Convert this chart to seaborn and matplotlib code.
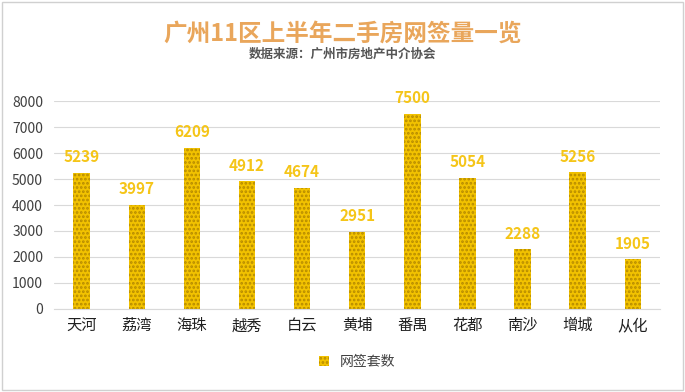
import matplotlib
matplotlib.use("Agg")
import matplotlib.pyplot as plt
import seaborn as sns
import pandas as pd

districts = ["天河", "荔湾", "海珠", "越秀", "白云", "黄埔", "番禺", "花都", "南沙", "增城", "从化"]
deals = [5239, 3997, 6209, 4912, 4674, 2951, 7500, 5054, 2288, 5256, 1905]
yticks = [0, 1000, 2000, 3000, 4000, 5000, 6000, 7000, 8000]

sns.set_style("white")
plt.rcParams['font.family'] = ['Noto Sans CJK SC', 'DejaVu Sans']
plt.rcParams['hatch.linewidth'] = 1.3

df = pd.DataFrame({"区": districts, "网签套数": deals})

fig = plt.figure(figsize=(6.85, 3.92), dpi=100)
ax = fig.add_axes([0.079, 0.212, 0.885, 0.53])

sns.barplot(data=df, x="区", y="网签套数", color="#F2C200", width=0.3, ax=ax,
            saturation=1, label="网签套数")
for p in ax.patches:
    p.set_hatch("....")
    p.set_edgecolor("#B58A00")
    p.set_linewidth(0)

for i, v in enumerate(deals):
    ax.text(i, v + 300, str(v), ha="center", va="bottom", fontsize=11,
            fontweight="bold", color="#F5C518")

ax.set_ylim(0, 8000)
ax.set_yticks(yticks)
ax.set_xlim(-0.5, len(districts) - 0.5)
ax.yaxis.grid(True, color="#D9D9D9", linewidth=0.8)
ax.set_axisbelow(True)
for s in ["top", "right", "left"]:
    ax.spines[s].set_visible(False)
ax.spines["bottom"].set_color("#D9D9D9")
ax.tick_params(axis="y", labelsize=10, colors="#404040", length=0, pad=8)
ax.tick_params(axis="x", labelsize=11, colors="#202020", length=0, pad=6)
ax.set_xlabel("")
ax.set_ylabel("")

leg = ax.legend(loc="upper center", bbox_to_anchor=(0.5, -0.16), frameon=False,
                fontsize=10, handlelength=0.7, handleheight=0.7)
for t in leg.get_texts():
    t.set_color("#404040")

fig.text(0.5, 0.915, "广州11区上半年二手房网签量一览", ha="center", va="center",
         fontsize=17, fontweight="bold", color="#E9A65B")
fig.text(0.5, 0.862, "数据来源：广州市房地产中介协会", ha="center", va="center",
         fontsize=9, fontweight="bold", color="#555555")

fig.patches.append(plt.Rectangle((0.003, 0.005), 0.994, 0.99, transform=fig.transFigure,
                                 fill=False, edgecolor="#D0D0D0", linewidth=1))

fig.savefig("out.png", dpi=100)
